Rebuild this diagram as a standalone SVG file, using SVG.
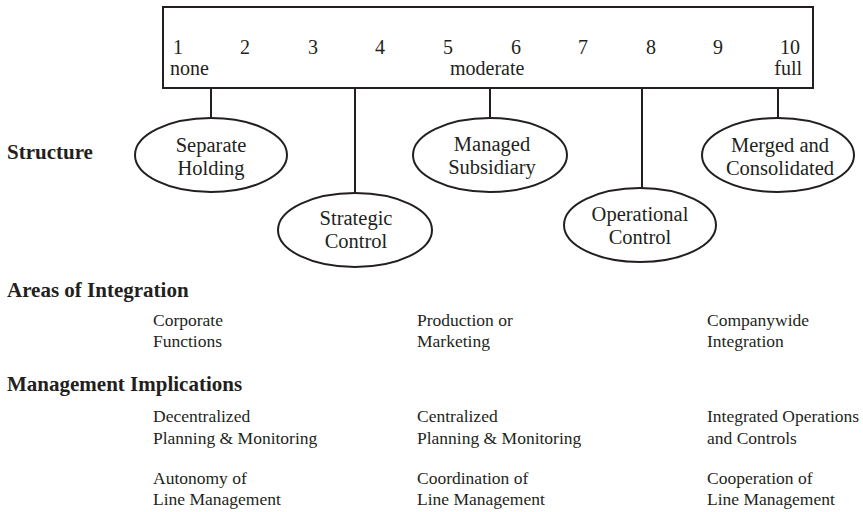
<svg xmlns="http://www.w3.org/2000/svg" width="863" height="512" viewBox="0 0 863 512">
<style>
  .bg { fill: #ffffff; }
  .shape { fill: #ffffff; stroke: #231f20; stroke-width: 2; }
  .conn line { stroke: #231f20; stroke-width: 2; }
  .t { font-family: 'Liberation Serif', 'DejaVu Serif', 'Times New Roman', serif; fill: #231f20; }
  .scale { font-size: 20px; }
  .node { font-size: 20.5px; text-anchor: middle; }
  .head { font-size: 21px; font-weight: bold; }
  .item { font-size: 17.5px; }
</style>
<rect class="bg" x="0" y="0" width="863" height="512"/>

<g id="scale">
  <rect class="shape" x="163" y="7" width="650" height="81"/>
  <g class="t scale">
    <text x="173" y="54">1</text>
    <text x="240" y="54">2</text>
    <text x="308" y="54">3</text>
    <text x="375" y="54">4</text>
    <text x="443" y="54">5</text>
    <text x="511" y="54">6</text>
    <text x="578" y="54">7</text>
    <text x="646" y="54">8</text>
    <text x="713" y="54">9</text>
    <text x="780" y="54">10</text>
    <text x="170" y="75">none</text>
    <text x="450" y="75">moderate</text>
    <text x="802" y="75" text-anchor="end">full</text>
  </g>
</g>

<g id="connectors" class="conn">
  <line x1="211" y1="88" x2="211" y2="118"/>
  <line x1="355" y1="88" x2="355" y2="193"/>
  <line x1="490" y1="88" x2="490" y2="118"/>
  <line x1="642" y1="88" x2="642" y2="188"/>
  <line x1="778" y1="88" x2="778" y2="118"/>
</g>

<g id="separate-holding">
  <ellipse class="shape" cx="211" cy="155" rx="76" ry="37"/>
  <text class="t node" x="211" y="152">Separate</text>
  <text class="t node" x="211" y="175">Holding</text>
</g>
<g id="strategic-control">
  <ellipse class="shape" cx="355" cy="230" rx="77" ry="37"/>
  <text class="t node" x="356" y="225">Strategic</text>
  <text class="t node" x="356" y="248">Control</text>
</g>
<g id="managed-subsidiary">
  <ellipse class="shape" cx="490" cy="155" rx="77" ry="37"/>
  <text class="t node" x="492" y="151">Managed</text>
  <text class="t node" x="492" y="174">Subsidiary</text>
</g>
<g id="operational-control">
  <ellipse class="shape" cx="640" cy="225" rx="76" ry="37"/>
  <text class="t node" x="640" y="221">Operational</text>
  <text class="t node" x="640" y="244">Control</text>
</g>
<g id="merged-consolidated">
  <ellipse class="shape" cx="778" cy="155" rx="76" ry="37"/>
  <text class="t node" x="780" y="152">Merged and</text>
  <text class="t node" x="780" y="175">Consolidated</text>
</g>

<g id="structure-label">
  <text class="t head" x="7" y="159">Structure</text>
</g>

<g id="areas">
  <text class="t head" x="7" y="297">Areas of Integration</text>
  <g class="t item">
    <text x="153" y="326">Corporate</text>
    <text x="153" y="347">Functions</text>
    <text x="417" y="326">Production or</text>
    <text x="417" y="347">Marketing</text>
    <text x="707" y="326">Companywide</text>
    <text x="707" y="347">Integration</text>
  </g>
</g>

<g id="implications">
  <text class="t head" x="7" y="391">Management Implications</text>
  <g class="t item">
    <text x="153" y="422">Decentralized</text>
    <text x="153" y="444">Planning &amp; Monitoring</text>
    <text x="417" y="422">Centralized</text>
    <text x="417" y="444">Planning &amp; Monitoring</text>
    <text x="707" y="422">Integrated Operations</text>
    <text x="707" y="444">and Controls</text>
    <text x="153" y="484">Autonomy of</text>
    <text x="153" y="505">Line Management</text>
    <text x="417" y="484">Coordination of</text>
    <text x="417" y="505">Line Management</text>
    <text x="707" y="484">Cooperation of</text>
    <text x="707" y="505">Line Management</text>
  </g>
</g>
</svg>
